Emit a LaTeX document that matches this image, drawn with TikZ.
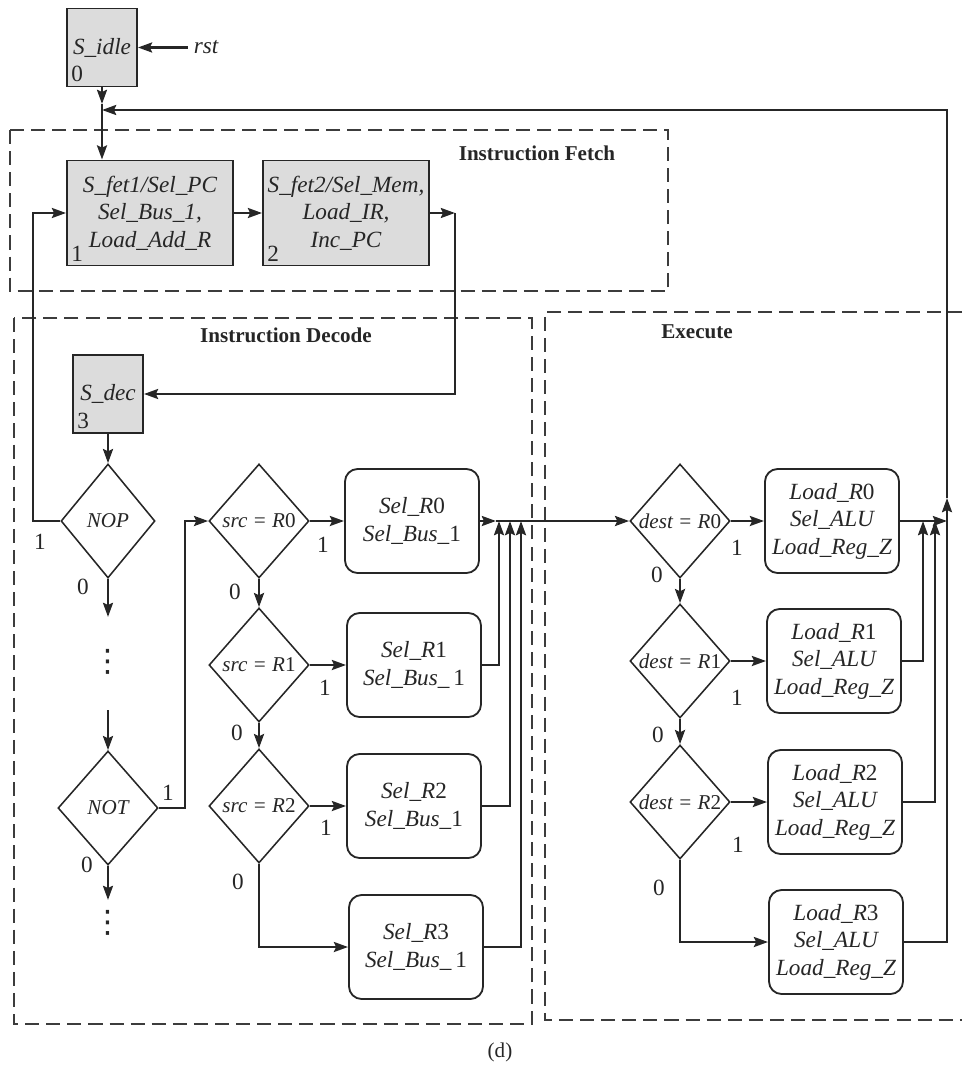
\documentclass[tikz,border=0pt]{standalone}
\usepackage{fontspec}
\setmainfont{Liberation Serif}
\newfontfamily\symfont{DejaVu Sans}
\usetikzlibrary{arrows.meta,shapes.geometric,calc}
\definecolor{fsmInk}{HTML}{262626}
\definecolor{fsmFill}{HTML}{DCDCDC}
\definecolor{fsmDash}{HTML}{3C3C3C}
\newcommand{\fsmfont}{\fontsize{16.5}{19.5}\selectfont}

\begin{document}
\begin{tikzpicture}[
  x=0.025cm, y=-0.025cm,
  font=\fsmfont,
  base/.style  = {draw=fsmInk, line width=1.3pt, align=center, inner sep=2pt,
                  text=fsmInk, font=\fsmfont\itshape},
  snode/.style = {base, fill=fsmFill, minimum width=1.75cm, minimum height=1.95cm},
  fnode/.style = {snode, minimum width=4.15cm, minimum height=2.625cm},
  onode/.style = {base, rounded corners=9pt, minimum width=3.35cm, minimum height=2.6cm},
  cnode/.style = {base, shape=diamond, inner sep=0pt, line width=1.1pt,
                  minimum width=2.5cm, minimum height=2.85cm,
                  font=\fontsize{15}{18}\selectfont\itshape},
  num/.style   = {anchor=south west, inner sep=3.5pt, font=\fsmfont\upshape, text=fsmInk},
  arr/.style   = {-{Stealth[length=10pt,width=7pt,inset=1.5pt]}, line width=2pt, draw=fsmInk},
  elbl/.style  = {font=\fsmfont, text=fsmInk, inner sep=0pt},
  bbox/.style  = {draw=fsmDash, line width=1pt, dash pattern=on 10pt off 5pt},
  ttl/.style   = {font=\fontsize{15}{18}\selectfont\bfseries, text=fsmInk},
  dots/.style  = {font=\symfont\fontsize{22}{22}\selectfont, text=fsmInk, inner sep=0pt},
]
\useasboundingbox (0,0) rectangle (962,1069);

%── Stage frames ──────────────────────────────────────────────────────────────
\draw[bbox] (10,130) rectangle (668,291);
\draw[bbox] (14,318) rectangle (532,1024);
\draw[bbox] (962,312) -- (545,312) -- (545,1020) -- (962,1020);

\node[ttl] (tf) at (537,153) {Instruction Fetch};
\node[ttl] (td) at (286,335) {Instruction Decode};
\node[ttl] (te) at (697,332) {Execute};

%── Reset and fetch states ────────────────────────────────────────────────────
\node[snode, label={[num]south west:0}] (idle) at (102,47.5) {S\_idle};
\node[elbl, font=\fsmfont\itshape, inner sep=4pt] (rst) at (206,47.5) {rst};
\node[fnode, label={[num]south west:1}] (f1) at (150,213)
    {S\_fet1/Sel\_PC\\Sel\_Bus\_1,\\Load\_Add\_R};
\node[fnode, label={[num]south west:2}] (f2) at (346,213)
    {S\_fet2/Sel\_Mem,\\Load\_IR,\\Inc\_PC};
\node[snode, label={[num]south west:3}] (dec) at (108,394) {S\_dec};

\coordinate (jt) at (102,104);
\coordinate (jn) at (102,110);
\coordinate (c1) at (455,213);

\draw[arr] (rst) -- (idle);
\draw[arr] (idle) -- (jt);
\draw[arr] (jt) -- (jt |- f1.north);
\draw[arr] (f1) -- (f2);
\draw[arr] (f2) -- (c1);
\draw[arr] (c1) |- (dec);

%── Decode: opcode tests ──────────────────────────────────────────────────────
\node[cnode, minimum width=2.35cm] (nop) at (108,521) {\makebox[0pt]{NOP}};
\node[dots] (dt1) at (108,662) {⋮};
\node[cnode] (nt) at (108,808) {\makebox[0pt]{NOT}};
\node[dots] (dt2) at (108,923) {⋮};

\coordinate (a1) at (108,617);
\coordinate (a2) at (108,710);
\coordinate (a3) at (108,900);
\coordinate (j1) at (185,808);
\coordinate (j2) at (33,521);

\draw[arr] (dec) -- (nop);
\draw[arr] (nop) -- (a1);
\draw[arr] (a2) -- (nt);
\draw[arr] (nt) -- (a3);
\draw[arr] (nop.west) -- (j2) |- (f1.west);

\node[elbl] (l1) at (40,542) {1};
\node[elbl] (l2) at (83,587) {0};
\node[elbl] (l3) at (168,793) {1};
\node[elbl] (l4) at (87,865) {0};

%── Decode: source register ───────────────────────────────────────────────────
\node[cnode] (s0) at (259,521) {\makebox[0pt]{src = R\textup{0}}};
\node[cnode] (s1) at (259,665) {\makebox[0pt]{src = R\textup{1}}};
\node[cnode] (s2) at (259,806) {\makebox[0pt]{src = R\textup{2}}};

\node[onode] (sr0) at (412,521) {Sel\_R\textup{0}\\Sel\_Bus\_\textup{1}};
\node[onode] (sr1) at (414,665) {Sel\_R\textup{1}\\Sel\_Bus\_\,\textup{1}};
\node[onode] (sr2) at (414,806) {Sel\_R\textup{2}\\Sel\_Bus\_\textup{1}};
\node[onode] (sr3) at (416,947) {Sel\_R\textup{3}\\Sel\_Bus\_\,\textup{1}};

\draw[arr] (nt.east) -- (j1) |- (s0.west);
\draw[arr] (s0) -- (sr0);
\draw[arr] (s1) -- (sr1);
\draw[arr] (s2) -- (sr2);
\draw[arr] (s0) -- (s1);
\draw[arr] (s1) -- (s2);
\draw[arr] (s2.south) |- (sr3.west);

\node[elbl] (l5) at (323,545) {1};
\node[elbl] (l6) at (235,592) {0};
\node[elbl] (l7) at (325,688) {1};
\node[elbl] (l8) at (237,733) {0};
\node[elbl] (l9) at (326,828) {1};
\node[elbl] (l10) at (238,882) {0};

%── Decode -> execute merge ───────────────────────────────────────────────────
\coordinate (m0) at (496,521);
\coordinate (mA) at (499,521);
\coordinate (mB) at (510,521);
\coordinate (mC) at (521,521);

%── Execute: destination register ─────────────────────────────────────────────
\node[cnode] (d0) at (680,521) {\makebox[0pt]{dest = R\textup{0}}};
\node[cnode] (d1) at (680,661) {\makebox[0pt]{dest = R\textup{1}}};
\node[cnode] (d2) at (680,802) {\makebox[0pt]{dest = R\textup{2}}};

\node[onode] (lr0) at (832,521) {Load\_R\textup{0}\\Sel\_ALU\\Load\_Reg\_Z};
\node[onode] (lr1) at (834,661) {Load\_R\textup{1}\\Sel\_ALU\\Load\_Reg\_Z};
\node[onode] (lr2) at (835,802) {Load\_R\textup{2}\\Sel\_ALU\\Load\_Reg\_Z};
\node[onode] (lr3) at (836,942) {Load\_R\textup{3}\\Sel\_ALU\\Load\_Reg\_Z};

\draw[arr] (sr0) -- (m0);
\draw[arr] (m0) -- (d0);
\draw[arr] (sr1.east) -| (mA);
\draw[arr] (sr2.east) -| (mB);
\draw[arr] (sr3.east) -| (mC);

\draw[arr] (d0) -- (lr0);
\draw[arr] (d1) -- (lr1);
\draw[arr] (d2) -- (lr2);
\draw[arr] (d0) -- (d1);
\draw[arr] (d1) -- (d2);
\draw[arr] (d2.south) |- (lr3.west);

\node[elbl] (l11) at (737,548) {1};
\node[elbl] (l12) at (657,575) {0};
\node[elbl] (l13) at (737,698) {1};
\node[elbl] (l14) at (658,735) {0};
\node[elbl] (l15) at (738,845) {1};
\node[elbl] (l16) at (659,888) {0};

%── Return to fetch ───────────────────────────────────────────────────────────
\coordinate (mD) at (923,521);
\coordinate (mE) at (935,521);
\coordinate (mF) at (947,521);
\coordinate (mG) at (947,498);

\draw[arr] (lr0) -- (mF);
\draw[arr] (lr1.east) -| (mD);
\draw[arr] (lr2.east) -| (mE);
\draw[arr] (lr3.east) -| (mG);
\draw[arr] (mG) |- (jn);

\node[elbl, font=\fontsize{15}{18}\selectfont] (cap) at (500,1052) {(d)};

\end{tikzpicture}
\end{document}
